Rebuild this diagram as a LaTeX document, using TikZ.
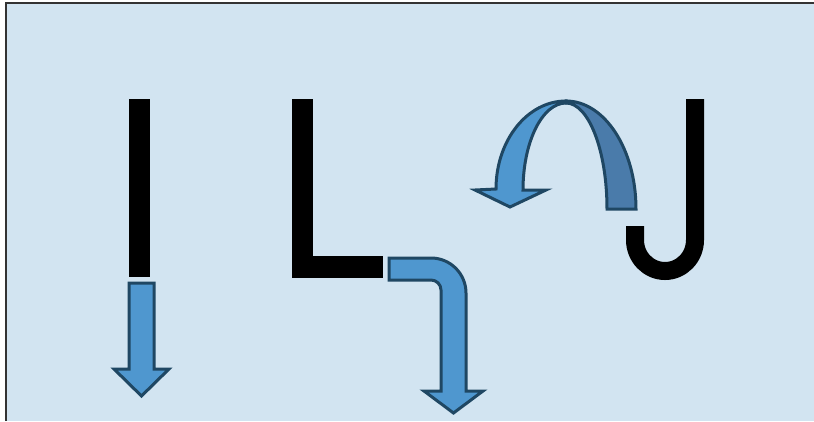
\documentclass[tikz,border=0pt]{standalone}
\usepackage{tikz}
\definecolor{bgblue}{HTML}{D2E4F1}
\definecolor{arrfill}{HTML}{4F97CF}
\definecolor{arrdark}{HTML}{4A7BAA}
\definecolor{arrline}{HTML}{1F4763}
\definecolor{frameline}{HTML}{333333}
\tikzset{
  blockarrow/.style={fill=arrfill, draw=arrline, line width=3pt, line join=miter},
  backband/.style={fill=arrdark, draw=arrline, line width=3pt, line join=miter},
  letterbar/.style={fill=black, draw=none},
  letterstroke/.style={draw=black, line width=18pt, line cap=butt}
}
\begin{document}
\begin{tikzpicture}[x=1pt,y=-1pt]
\useasboundingbox (0,0) rectangle (814,421);
\fill[white] (0,0) rectangle (814,421);
\fill[bgblue] (6,2.5) rectangle (814,421);
\draw[frameline, line width=2pt] (6,421) -- (6,2.5) -- (814,2.5);

% I
\path[letterbar] (129,99) rectangle (150,277);
% straight down arrow
\path[blockarrow] (129,283) -- (154,283) -- (154,369) -- (169,369) -- (141.5,396)
  -- (114,369) -- (129,369) -- cycle;

% L
\path[letterbar] (292,99) rectangle (313,278);
\path[letterbar] (292,256) rectangle (383,278);
% bent arrow
\path[blockarrow] (389,258) -- (431,258) arc[start angle=-90, end angle=0, radius=35]
  -- (466,391) -- (483,391) -- (453.5,413) -- (424,391) -- (441,391)
  -- (441,290) arc[start angle=0, end angle=-90, radius=10]
  -- (389,280) -- cycle;

% U-turn (curved) arrow: back band
\path[backband] (636,209) arc[start angle=0, end angle=-90, x radius=70, y radius=108]
  -- (566,103) arc[start angle=-90, end angle=0, x radius=41, y radius=106]
  -- cycle;
% front band with head
\path[blockarrow] (566,101) arc[start angle=-90, end angle=-180, x radius=70, y radius=88]
  -- (475,190) -- (510,207) -- (546,190) -- (523,190)
  arc[start angle=180, end angle=270, x radius=43, y radius=87]
  -- cycle;

% J
\draw[letterstroke] (695,99) -- (695,240)
  arc[start angle=0, end angle=180, x radius=30, y radius=31] -- (635,226);
\end{tikzpicture}
\end{document}
